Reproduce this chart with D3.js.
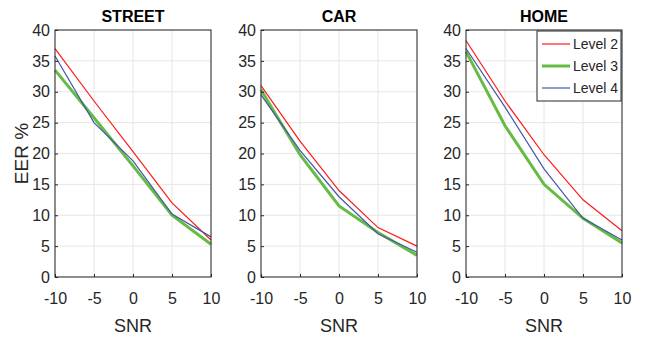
<!DOCTYPE html>
<html>
<head>
<meta charset="utf-8">
<script src="https://cdn.jsdelivr.net/npm/d3@7"></script>
<style>
  body { margin: 0; background: #fff; }
  text { font-family: "Liberation Sans", Arial, sans-serif; fill: #262626; }
  .grid line { stroke: #e6e6e6; stroke-width: 1; }
</style>
</head>
<body>
<div id="chart"></div>
<script>
// data
var snr = [-10, -5, 0, 5, 10];
var panels = ["STREET", "CAR", "HOME"];
var levels = ["Level 2", "Level 3", "Level 4"];
var yTicks = [0, 5, 10, 15, 20, 25, 30, 35, 40];

var streetL2 = [37, 28.5, 20.3, 12, 6];
var streetL3 = [33.5, 25.8, 18, 10, 5.3];
var streetL4 = [35.8, 25, 18.8, 10.2, 6.5];

var carL2 = [31, 22, 14, 8, 5];
var carL3 = [30.3, 19.8, 11.5, 7.2, 3.5];
var carL4 = [29.5, 20.5, 13, 7, 4];

var homeL2 = [38.3, 28.5, 19.8, 12.5, 7.5];
var homeL3 = [36.5, 24.5, 15, 9.5, 5.5];
var homeL4 = [37, 27.5, 17.5, 9.5, 6];

var panelData = [
  [streetL2, streetL3, streetL4],
  [carL2, carL3, carL4],
  [homeL2, homeL3, homeL4]
];

var colors = ["#ff1a1a", "#66bb44", "#4059a8"];
var widths = [1.2, 3, 1.2];

var svg = d3.select("#chart").append("svg")
  .attr("width", 646)
  .attr("height", 339);

var lefts = [55, 261, 466];
var pw = 156, plotTop = 30, plotBottom = 277;

var y = d3.scaleLinear().domain([0, 40]).range([plotBottom, plotTop]);

panels.forEach(function (name, p) {
  var x = d3.scaleLinear().domain([-10, 10]).range([lefts[p], lefts[p] + pw]);
  var g = svg.append("g");

  // grid
  var grid = g.append("g").attr("class", "grid");
  grid.selectAll(".gx").data(snr).enter().append("line")
    .attr("x1", function (d) { return x(d); })
    .attr("x2", function (d) { return x(d); })
    .attr("y1", plotTop).attr("y2", plotBottom);
  grid.selectAll(".gy").data(yTicks).enter().append("line")
    .attr("x1", lefts[p]).attr("x2", lefts[p] + pw)
    .attr("y1", function (d) { return y(d); })
    .attr("y2", function (d) { return y(d); });

  // lines
  var line = d3.line()
    .x(function (d, i) { return x(snr[i]); })
    .y(function (d) { return y(d); });

  panelData[p].forEach(function (vals, k) {
    g.append("path")
      .attr("d", line(vals))
      .attr("fill", "none")
      .attr("stroke", colors[k])
      .attr("stroke-width", widths[k]);
  });

  // box
  g.append("rect")
    .attr("x", lefts[p]).attr("y", plotTop)
    .attr("width", pw).attr("height", plotBottom - plotTop)
    .attr("fill", "none")
    .attr("stroke", "#262626")
    .attr("stroke-width", 1);

  // axes
  var xAxis = g.append("g")
    .attr("transform", "translate(0," + plotBottom + ")")
    .call(d3.axisBottom(x).tickValues(snr).tickSize(-3).tickPadding(16)
      .tickFormat(function (d) { return String(d); }));
  var yAxis = g.append("g")
    .attr("transform", "translate(" + lefts[p] + ",0)")
    .call(d3.axisLeft(y).tickValues(yTicks).tickSize(-3).tickPadding(5));

  [xAxis, yAxis].forEach(function (a) {
    a.select(".domain").remove();
    a.selectAll(".tick line").attr("stroke", "#262626");
    a.selectAll("text").attr("font-size", 16)
      .attr("font-family", "Liberation Sans, Arial, sans-serif")
      .attr("fill", "#262626");
  });

  // title
  g.append("text")
    .attr("x", lefts[p] + pw / 2)
    .attr("y", 22)
    .attr("text-anchor", "middle")
    .attr("font-size", 16)
    .attr("font-weight", "bold")
    .style("fill", "#000")
    .text(name);

  // x label
  g.append("text")
    .attr("x", lefts[p] + pw / 2)
    .attr("y", 332)
    .attr("text-anchor", "middle")
    .attr("font-size", 18)
    .text("SNR");
});

// y label
svg.append("text")
  .attr("transform", "translate(28," + (plotTop + plotBottom) / 2 + ") rotate(-90)")
  .attr("text-anchor", "middle")
  .attr("font-size", 19)
  .text("EER %");

// legend in HOME panel
var lg = svg.append("g").attr("transform", "translate(537,31)");
lg.append("rect")
  .attr("width", 84).attr("height", 70)
  .attr("fill", "#fff")
  .attr("stroke", "#262626")
  .attr("stroke-width", 1);
levels.forEach(function (name, k) {
  var ly = 13 + k * 22;
  lg.append("line")
    .attr("x1", 5).attr("x2", 33)
    .attr("y1", ly).attr("y2", ly)
    .attr("stroke", colors[k])
    .attr("stroke-width", widths[k]);
  lg.append("text")
    .attr("x", 36).attr("y", ly + 5)
    .attr("font-size", 14)
    .text(name);
});
</script>
</body>
</html>
